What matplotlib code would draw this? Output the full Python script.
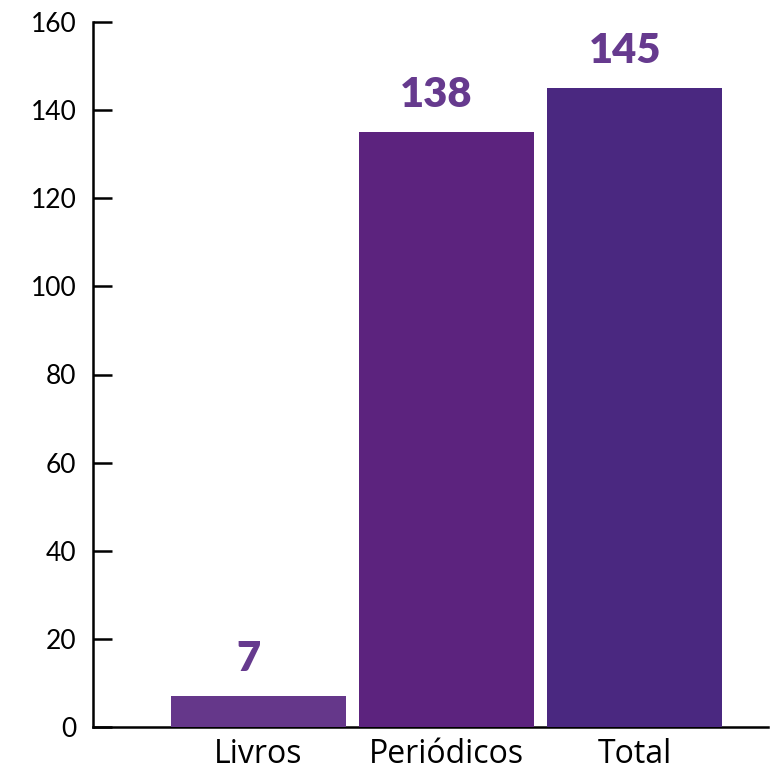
import matplotlib
matplotlib.use("Agg")
import matplotlib.pyplot as plt

categories = ["Livros", "Periódicos", "Total"]
bar_heights = [7, 135, 145]
value_labels = ["7", "138", "145"]
bar_colors = ["#65378A", "#5C237E", "#4A2880"]
y_ticks = [0, 20, 40, 60, 80, 100, 120, 140, 160]

plt.rcParams['font.family'] = ['Lato', 'DejaVu Sans']

fig = plt.figure(figsize=(7.7, 7.75), dpi=100)
ax = fig.add_axes([93/770, 48/775, 675/770, 705/775])

x = list(range(len(categories)))
bars = ax.bar(x, bar_heights, width=0.93, color=bar_colors, zorder=3)

for b, lab in zip(bars, value_labels):
    ax.annotate(lab, (b.get_x() + b.get_width()/2, b.get_height()),
                xytext=(-7, 26.5), textcoords="offset points",
                ha="center", va="center", fontsize=30, fontweight="heavy",
                color="#663A8E")

ax.set_xlim(-0.878, 2.71)
ax.set_ylim(0, 160)
ax.set_yticks(y_ticks)
ax.set_yticklabels([str(t) for t in y_ticks], fontsize=19)
ax.set_xticks(x)
ax.set_xticklabels(categories, fontsize=23, family=['Open Sans', 'DejaVu Sans'])

ax.spines['top'].set_visible(False)
ax.spines['right'].set_visible(False)
ax.spines['left'].set_linewidth(1.8)
ax.spines['bottom'].set_linewidth(1.8)
ax.tick_params(axis='y', direction='in', length=13.7, width=1.8, pad=12)
ax.tick_params(axis='x', length=0, pad=8)

fig.savefig("out.png", dpi=100)
